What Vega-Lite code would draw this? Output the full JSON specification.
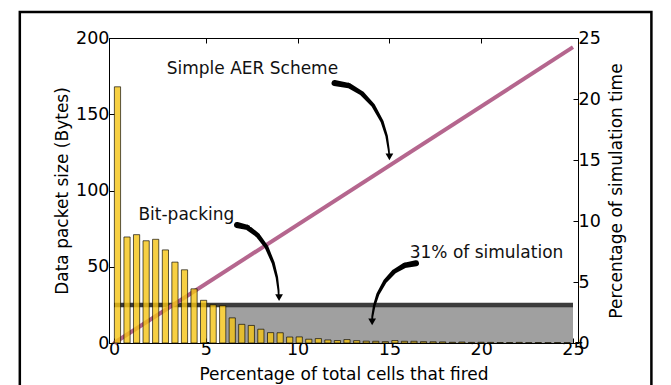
{
  "$schema": "https://vega.github.io/schema/vega-lite/v6.json",
  "width": 469,
  "height": 305,
  "autosize": {"type": "none"},
  "padding": {"left": 109, "top": 38, "right": 93, "bottom": 42},
  "background": "white",
  "config": {
    "view": {"stroke": "#000", "strokeWidth": 1},
    "axis": {
      "labelFont": "DejaVu Sans", "titleFont": "DejaVu Sans",
      "labelFontSize": 17.5, "titleFontSize": 17, "titleFontWeight": "normal",
      "labelColor": "#000", "titleColor": "#000",
      "domainColor": "#000", "tickColor": "#000", "grid": false,
      "tickSize": -5, "labelFlush": false, "labelOverlap": false, "labelBound": false
    },
    "text": {"font": "DejaVu Sans"}
  },
  "datasets": {
    "bars": [
      {"x": 0.19, "pct": 21.0}, {"x": 0.71, "pct": 8.69}, {"x": 1.23, "pct": 8.88}, {"x": 1.75, "pct": 8.38},
      {"x": 2.27, "pct": 8.5}, {"x": 2.80, "pct": 7.63}, {"x": 3.32, "pct": 6.63}, {"x": 3.84, "pct": 6.0},
      {"x": 4.36, "pct": 4.44}, {"x": 4.88, "pct": 3.5}, {"x": 5.40, "pct": 3.13}, {"x": 5.92, "pct": 3.06},
      {"x": 6.44, "pct": 2.06}, {"x": 6.96, "pct": 1.53}, {"x": 7.48, "pct": 1.44}, {"x": 8.00, "pct": 1.13},
      {"x": 8.53, "pct": 0.85}, {"x": 9.05, "pct": 0.84}, {"x": 9.57, "pct": 0.49}, {"x": 10.09, "pct": 0.5},
      {"x": 10.61, "pct": 0.31}, {"x": 11.13, "pct": 0.36}, {"x": 11.65, "pct": 0.25}, {"x": 12.17, "pct": 0.2},
      {"x": 12.69, "pct": 0.28}, {"x": 13.22, "pct": 0.19}, {"x": 13.74, "pct": 0.15}, {"x": 14.26, "pct": 0.14},
      {"x": 14.78, "pct": 0.11}, {"x": 15.30, "pct": 0.2}, {"x": 15.82, "pct": 0.14}, {"x": 16.34, "pct": 0.14},
      {"x": 16.86, "pct": 0.11}, {"x": 17.38, "pct": 0.1}, {"x": 17.90, "pct": 0.09}, {"x": 18.43, "pct": 0.06},
      {"x": 18.95, "pct": 0.08}, {"x": 19.47, "pct": 0.05}, {"x": 19.99, "pct": 0.06}, {"x": 20.51, "pct": 0.05},
      {"x": 21.03, "pct": 0.04}, {"x": 21.55, "pct": 0.04}, {"x": 22.07, "pct": 0.05}, {"x": 22.59, "pct": 0.03},
      {"x": 23.11, "pct": 0.04}, {"x": 23.64, "pct": 0.03}, {"x": 24.16, "pct": 0.04}, {"x": 24.68, "pct": 0.03}
    ],
    "aer": [{"x": 0, "bytes": 0}, {"x": 25, "bytes": 194}],
    "bitpack": [{"x": 0, "bytes": 25}, {"x": 25, "bytes": 25}],
    "grey": [{"x": 6.09, "x2": 25, "bytes": 0, "bytes2": 23.7}],
    "frame": [{"x": -5.13, "x2": 29.27, "bytes": 217, "bytes2": -40}],
    "arrows": [
      {"arrow": "aer", "t": 0, "x": 12.01, "bytes": 170.5},
      {"arrow": "aer", "t": 0.17, "x": 12.79, "bytes": 168.8},
      {"arrow": "aer", "t": 0.33, "x": 13.50, "bytes": 163.7},
      {"arrow": "aer", "t": 0.5, "x": 14.12, "bytes": 155.7},
      {"arrow": "aer", "t": 0.67, "x": 14.60, "bytes": 145.2},
      {"arrow": "aer", "t": 0.8, "x": 14.85, "bytes": 135.6},
      {"arrow": "aer", "t": 0.91, "x": 14.96, "bytes": 127.0},
      {"arrow": "aer", "t": 1, "x": 14.99, "bytes": 123.5},
      {"arrow": "bit", "t": 0, "x": 6.70, "bytes": 77.4},
      {"arrow": "bit", "t": 0.17, "x": 7.28, "bytes": 75.7},
      {"arrow": "bit", "t": 0.33, "x": 7.83, "bytes": 70.6},
      {"arrow": "bit", "t": 0.5, "x": 8.31, "bytes": 62.8},
      {"arrow": "bit", "t": 0.67, "x": 8.67, "bytes": 52.5},
      {"arrow": "bit", "t": 0.8, "x": 8.87, "bytes": 43.0},
      {"arrow": "bit", "t": 0.91, "x": 8.96, "bytes": 34.5},
      {"arrow": "bit", "t": 1, "x": 8.97, "bytes": 31.0},
      {"arrow": "sim", "t": 0, "x": 16.45, "bytes": 52.3},
      {"arrow": "sim", "t": 0.17, "x": 15.83, "bytes": 50.9},
      {"arrow": "sim", "t": 0.33, "x": 15.25, "bytes": 46.8},
      {"arrow": "sim", "t": 0.5, "x": 14.76, "bytes": 40.4},
      {"arrow": "sim", "t": 0.67, "x": 14.37, "bytes": 32.0},
      {"arrow": "sim", "t": 0.8, "x": 14.17, "bytes": 24.3},
      {"arrow": "sim", "t": 0.91, "x": 14.07, "bytes": 17.4},
      {"arrow": "sim", "t": 1, "x": 14.06, "bytes": 14.6}
    ],
    "heads": [
      {"x": 15.0, "bytes": 122.0},
      {"x": 8.99, "bytes": 29.8},
      {"x": 14.06, "bytes": 13.8}
    ],
    "labels": [
      {"x": 7.54, "bytes": 179.7, "label": "Simple AER Scheme"},
      {"x": 3.94, "bytes": 83.9, "label": "Bit-packing"},
      {"x": 20.29, "bytes": 58.8, "label": "31% of simulation"}
    ]
  },
  "layer": [
    {
      "encoding": {
        "x": {"field": "x", "type": "quantitative", "scale": {"domain": [0, 25], "nice": false},
              "axis": {"values": [0, 5, 10, 15, 20, 25], "title": "Percentage of total cells that fired", "labelPadding": 2, "titlePadding": 9}},
        "y": {"field": "bytes", "type": "quantitative", "scale": {"domain": [0, 200], "nice": false},
              "axis": {"values": [0, 50, 100, 150, 200], "title": "Data packet size (Bytes)", "labelPadding": 5, "titlePadding": 4}}
      },
      "layer": [
        {"data": {"name": "frame"}, "mark": {"type": "rect", "fill": null, "stroke": "#000", "strokeWidth": 2.5},
         "encoding": {"x2": {"field": "x2"}, "y2": {"field": "bytes2"}}},
        {"data": {"name": "grey"}, "mark": {"type": "rect", "color": "#a0a0a0"},
         "encoding": {"x2": {"field": "x2"}, "y2": {"field": "bytes2"}}},
        {"data": {"name": "bitpack"}, "mark": {"type": "line", "color": "#1a1a1a", "strokeWidth": 4.5, "opacity": 0.85}, "encoding": {}},
        {"data": {"name": "aer"}, "mark": {"type": "line", "color": "#b5668e", "strokeWidth": 4}, "encoding": {}},
        {"data": {"name": "arrows"}, "mark": {"type": "trail", "color": "#000"},
         "encoding": {"detail": {"field": "arrow"}, "order": {"field": "t"},
                      "size": {"field": "t", "type": "quantitative", "scale": {"domain": [0, 1], "range": [6, 1.6]}, "legend": null}}},
        {"data": {"name": "heads"}, "mark": {"type": "point", "shape": "triangle-down", "filled": true, "color": "#000", "size": 60, "opacity": 1}, "encoding": {}},
        {"data": {"name": "labels"}, "mark": {"type": "text", "fontSize": 17, "color": "#111", "align": "center", "baseline": "middle"},
         "encoding": {"text": {"field": "label"}}}
      ]
    },
    {
      "data": {"name": "bars"},
      "mark": {"type": "bar", "width": 6.2, "color": "#f5c414", "fillOpacity": 0.8, "stroke": "#000", "strokeOpacity": 0.65, "strokeWidth": 1},
      "encoding": {
        "x": {"field": "x", "type": "quantitative", "scale": {"domain": [0, 25], "nice": false},
              "axis": {"orient": "top", "values": [5, 10, 15, 20], "labels": false, "title": null, "domain": false}},
        "y": {"field": "pct", "type": "quantitative", "scale": {"domain": [0, 25], "nice": false},
              "axis": {"orient": "right", "values": [0, 5, 10, 15, 20, 25], "title": "Percentage of simulation time", "labelPadding": 5, "titlePadding": 8, "titleAngle": 270, "titleBaseline": "top"}}
      }
    }
  ],
  "resolve": {"scale": {"y": "independent"}, "axis": {"x": "independent"}}
}
